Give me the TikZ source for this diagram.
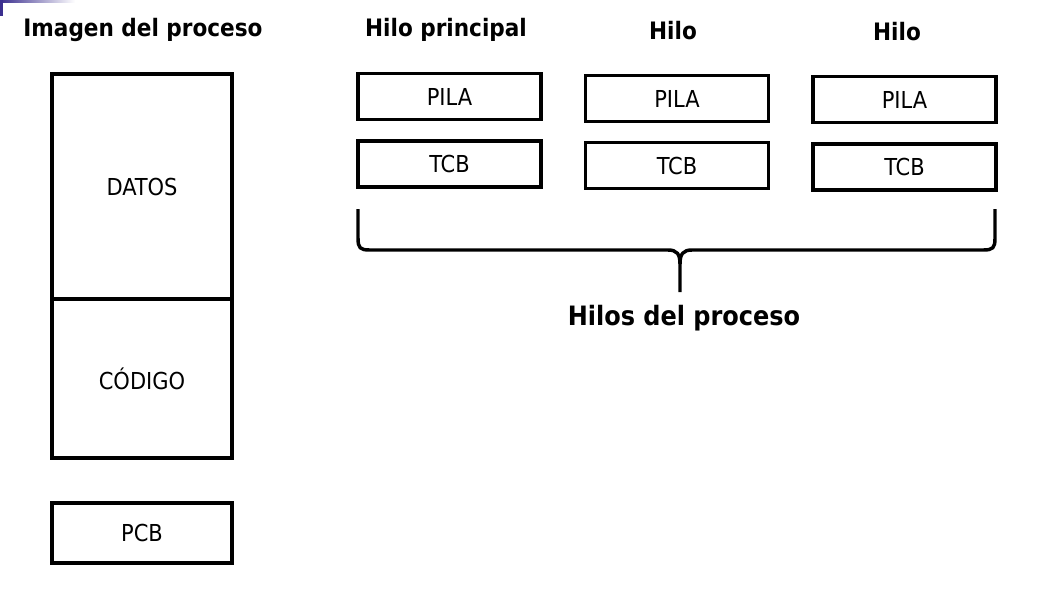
\documentclass[tikz,border=0pt]{standalone}
\usepackage{fontspec}
\setmainfont{DejaVu Sans Condensed}
\usepackage{xcolor}
\usepackage{tikz}
\usetikzlibrary{positioning,calc}

\definecolor{slideblue}{HTML}{3B2F8F}

\tikzset{
  caja/.style={draw,line width=2.6pt,inner sep=0pt,fill=white,
    minimum width=137pt,minimum height=34.5pt,font=\fontsize{17.5}{20}\selectfont},
  titulo/.style={font=\fontsize{18}{21}\selectfont\bfseries}
}

\begin{document}
\begin{tikzpicture}[x=0.75pt,y=-0.75pt]
\useasboundingbox (0,0) rectangle (1045,601);
% slide corner
\shade[left color=slideblue,right color=white] (0,0) rectangle (75,2.5);
\fill[slideblue] (0,0) rectangle (3,16);
% process image
\node[titulo] (timg) at (143,30) {Imagen del proceso};
\node[caja,minimum width=135pt,minimum height=168.75pt] (datos) at (142,186.5) {DATOS};
\node[caja,minimum width=135pt,minimum height=119.25pt] (codigo) at (142,378.5) {CÓDIGO};
\node[caja,minimum width=135pt,minimum height=45pt] (pcb) at (142,533) {PCB};
% threads
\node[titulo] (thilo1) at (446,30) {Hilo principal};
\node[titulo] (thilo2) at (673,31) {Hilo};
\node[titulo] (thilo3) at (897,32) {Hilo};
\node[caja] (pila1) at (449.5,96.5) {PILA};
\node[caja] (tcb1) at (449.5,164) {TCB};
\node[caja] (pila2) at (677,98.5) {PILA};
\node[caja] (tcb2) at (677,165.5) {TCB};
\node[caja] (pila3) at (904.5,99.5) {PILA};
\node[caja] (tcb3) at (904.5,167) {TCB};
% brace
\draw[line width=2.6pt,line join=round]
  (358,209) -- (358,238) .. controls (358,248) and (360,250) .. (370,250)
  -- (668,250) .. controls (677,250) and (680,254) .. (680,264) -- (680,292);
\draw[line width=2.6pt,line join=round]
  (995,209) -- (995,238) .. controls (995,248) and (993,250) .. (983,250)
  -- (692,250) .. controls (683,250) and (680,254) .. (680,264);
\node[font=\fontsize{20}{24}\selectfont\bfseries] (thilos) at (684,318) {Hilos del proceso};
\end{tikzpicture}
\end{document}
